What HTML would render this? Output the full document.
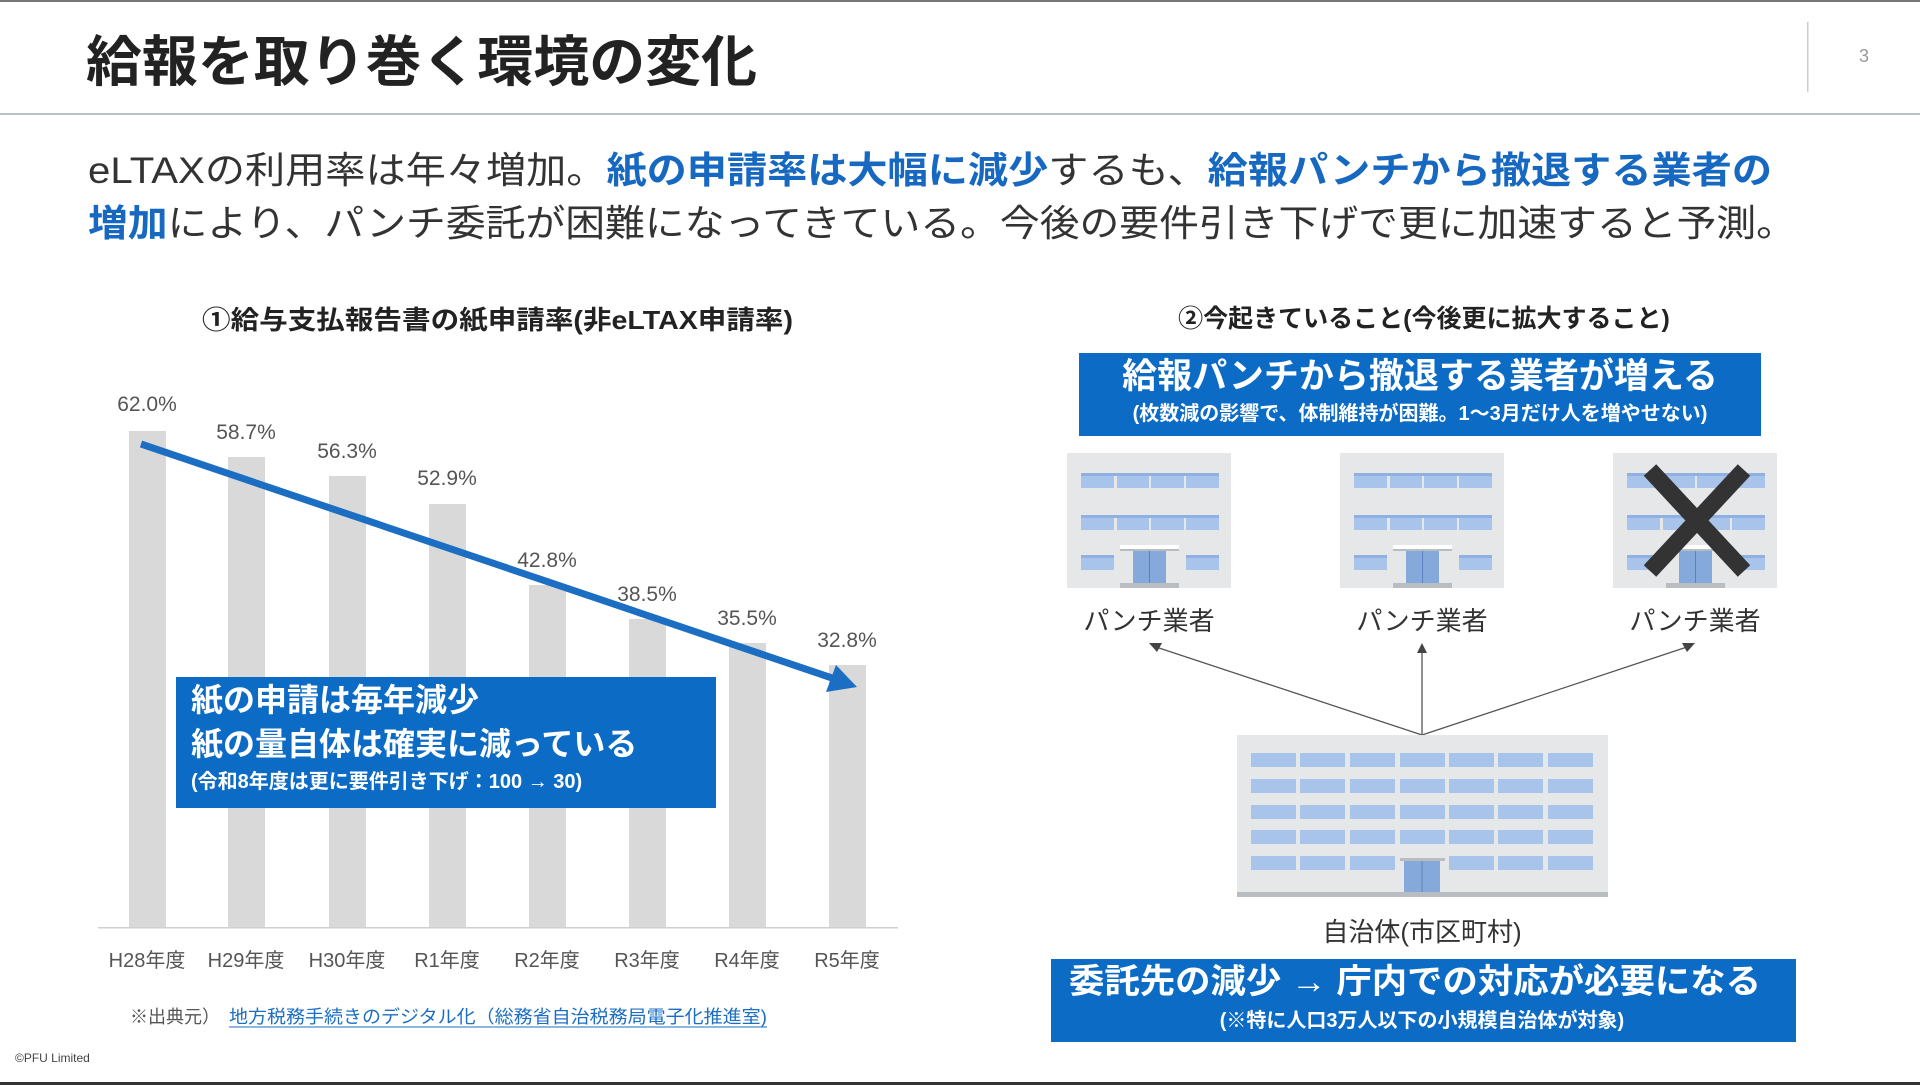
<!DOCTYPE html>
<html><head><meta charset="utf-8"><style>
html,body{margin:0;padding:0;background:#fff;}
svg{display:block;}
text{font-family:"Liberation Sans","Noto Sans CJK JP",sans-serif;}
</style></head><body>
<svg width="1920" height="1085" viewBox="0 0 1920 1085" xmlns="http://www.w3.org/2000/svg">
<defs>
<g id="sb">
<rect x="0" y="0" width="164" height="135" fill="#e6e7e9"/>
<g fill="#a9c4ea">
<rect x="14" y="20" width="33" height="15"/><rect x="50" y="20" width="32" height="15"/><rect x="84" y="20" width="33" height="15"/><rect x="119" y="20" width="33" height="15"/>
<rect x="14" y="62" width="33" height="15"/><rect x="50" y="62" width="32" height="15"/><rect x="84" y="62" width="33" height="15"/><rect x="119" y="62" width="33" height="15"/>
<rect x="14" y="102" width="33" height="15"/><rect x="119" y="102" width="33" height="15"/>
</g>
<g fill="#8fb0e0">
<rect x="14" y="20" width="138" height="3"/><rect x="14" y="62" width="138" height="3"/><rect x="14" y="102" width="33" height="3"/><rect x="119" y="102" width="33" height="3"/>
</g>
<rect x="66" y="98" width="33" height="32" fill="#86a9dc"/>
<line x1="82.5" y1="98" x2="82.5" y2="130" stroke="#5c82bd" stroke-width="1"/>
<rect x="53" y="92" width="59" height="4" fill="#fff"/><rect x="53" y="96" width="59" height="2" fill="#b9bcc0"/>
<rect x="53" y="130" width="59" height="5" fill="#b9bcc0"/>
</g>
</defs>

<rect x="0" y="0" width="1920" height="2" fill="#777"/>
<text x="86" y="81" font-size="55" font-weight="bold" fill="#222" textLength="671" lengthAdjust="spacingAndGlyphs">給報を取り巻く環境の変化</text>
<rect x="1807" y="22" width="1.5" height="70" fill="#ccc"/>
<text x="1864" y="62" font-size="18" fill="#999" text-anchor="middle">3</text>
<rect x="0" y="113" width="1920" height="2" fill="#b8c0c6"/>

<text x="88" y="183" font-size="37" fill="#333" textLength="1684" lengthAdjust="spacingAndGlyphs">eLTAXの利用率は年々増加。<tspan fill="#1668c1" font-weight="bold">紙の申請率は大幅に減少</tspan>するも、<tspan fill="#1668c1" font-weight="bold">給報パンチから撤退する業者の</tspan></text>
<text x="88" y="236" font-size="37" fill="#333" textLength="1708" lengthAdjust="spacingAndGlyphs"><tspan fill="#1668c1" font-weight="bold">増加</tspan>により、パンチ委託が困難になってきている。今後の要件引き下げで更に加速すると予測。</text>

<text x="202" y="329" font-size="26" font-weight="bold" fill="#222" textLength="591" lengthAdjust="spacingAndGlyphs">①給与支払報告書の紙申請率(非eLTAX申請率)</text>

<g fill="#d9d9d9">
<rect x="129" y="431" width="37" height="497"/>
<rect x="228" y="457" width="37" height="471"/>
<rect x="329" y="476" width="37" height="452"/>
<rect x="429" y="504" width="37" height="424"/>
<rect x="529" y="585" width="37" height="343"/>
<rect x="629" y="619" width="37" height="309"/>
<rect x="729" y="643" width="37" height="285"/>
<rect x="829" y="665" width="37" height="263"/>
</g>
<rect x="98" y="927" width="800" height="1.5" fill="#d0d0d0"/>
<g font-size="21" fill="#555" text-anchor="middle">
<text x="147" y="411">62.0%</text><text x="246" y="439">58.7%</text><text x="347" y="458">56.3%</text><text x="447" y="485">52.9%</text>
<text x="547" y="567">42.8%</text><text x="647" y="601">38.5%</text><text x="747" y="625">35.5%</text><text x="847" y="647">32.8%</text>
</g>
<g font-size="20" fill="#555" text-anchor="middle">
<text x="147" y="967">H28年度</text><text x="246" y="967">H29年度</text><text x="347" y="967">H30年度</text><text x="447" y="967">R1年度</text>
<text x="547" y="967">R2年度</text><text x="647" y="967">R3年度</text><text x="747" y="967">R4年度</text><text x="847" y="967">R5年度</text>
</g>
<line x1="141" y1="444" x2="835" y2="679" stroke="#1b6ec2" stroke-width="7"/>
<polygon points="857,687 826,692 836,665" fill="#1b6ec2"/>

<rect x="176" y="677" width="540" height="131" fill="#0c6bc5"/>
<text x="191" y="711" font-size="32" font-weight="bold" fill="#fff">紙の申請は毎年減少</text>
<text x="191" y="755" font-size="32" font-weight="bold" fill="#fff">紙の量自体は確実に減っている</text>
<text x="191" y="788" font-size="20" font-weight="bold" fill="#fff">(令和8年度は更に要件引き下げ：100 → 30)</text>

<text x="130" y="1023" font-size="18" fill="#555">※出典元）</text>
<text x="229" y="1023" font-size="18" fill="#1b6ec2" textLength="538" lengthAdjust="spacingAndGlyphs">地方税務手続きのデジタル化（総務省自治税務局電子化推進室)</text>
<line x1="229" y1="1027" x2="767" y2="1027" stroke="#1b6ec2" stroke-width="1"/>
<text x="15" y="1062" font-size="12" fill="#444">©PFU Limited</text>
<rect x="0" y="1082" width="1920" height="3" fill="#333"/>

<text x="1424" y="327" font-size="25" font-weight="bold" fill="#222" text-anchor="middle">②今起きていること(今後更に拡大すること)</text>
<rect x="1079" y="353" width="682" height="83" fill="#0c6bc5"/>
<text x="1420" y="388" font-size="35" font-weight="bold" fill="#fff" text-anchor="middle">給報パンチから撤退する業者が増える</text>
<text x="1420" y="420" font-size="20" font-weight="bold" fill="#fff" text-anchor="middle">(枚数減の影響で、体制維持が困難。1～3月だけ人を増やせない)</text>

<use href="#sb" x="1067" y="453"/>
<use href="#sb" x="1340" y="453"/>
<use href="#sb" x="1613" y="453"/>
<g stroke="#333" stroke-width="17" stroke-linecap="butt">
<line x1="1650" y1="470" x2="1744" y2="571"/><line x1="1744" y1="470" x2="1650" y2="571"/>
</g>
<g font-size="26" fill="#333" text-anchor="middle">
<text x="1149" y="630">パンチ業者</text><text x="1422" y="630">パンチ業者</text><text x="1695" y="630">パンチ業者</text>
</g>
<g stroke="#555" stroke-width="1.3">
<line x1="1422" y1="735" x2="1153" y2="646"/><line x1="1422" y1="735" x2="1422" y2="652"/><line x1="1422" y1="735" x2="1690" y2="646"/>
</g>
<g fill="#444">
<polygon points="1149,643 1162,643 1157,652"/>
<polygon points="1422,643 1417,653 1427,653"/>
<polygon points="1695,643 1682,643 1687,652"/>
</g>

<rect x="1237" y="735" width="371" height="162" fill="#e6e7e9"/>
<g fill="#a9c4ea">
<rect x="1251" y="753" width="45" height="14"/><rect x="1300" y="753" width="45" height="14"/><rect x="1350" y="753" width="45" height="14"/><rect x="1400" y="753" width="45" height="14"/><rect x="1449" y="753" width="45" height="14"/><rect x="1498" y="753" width="45" height="14"/><rect x="1548" y="753" width="45" height="14"/>
<rect x="1251" y="779" width="45" height="14"/><rect x="1300" y="779" width="45" height="14"/><rect x="1350" y="779" width="45" height="14"/><rect x="1400" y="779" width="45" height="14"/><rect x="1449" y="779" width="45" height="14"/><rect x="1498" y="779" width="45" height="14"/><rect x="1548" y="779" width="45" height="14"/>
<rect x="1251" y="805" width="45" height="14"/><rect x="1300" y="805" width="45" height="14"/><rect x="1350" y="805" width="45" height="14"/><rect x="1400" y="805" width="45" height="14"/><rect x="1449" y="805" width="45" height="14"/><rect x="1498" y="805" width="45" height="14"/><rect x="1548" y="805" width="45" height="14"/>
<rect x="1251" y="830" width="45" height="14"/><rect x="1300" y="830" width="45" height="14"/><rect x="1350" y="830" width="45" height="14"/><rect x="1400" y="830" width="45" height="14"/><rect x="1449" y="830" width="45" height="14"/><rect x="1498" y="830" width="45" height="14"/><rect x="1548" y="830" width="45" height="14"/>
<rect x="1251" y="856" width="45" height="14"/><rect x="1300" y="856" width="45" height="14"/><rect x="1350" y="856" width="45" height="14"/><rect x="1449" y="856" width="45" height="14"/><rect x="1498" y="856" width="45" height="14"/><rect x="1548" y="856" width="45" height="14"/>
</g>
<rect x="1400" y="858" width="45" height="3" fill="#b9bcc0"/>
<rect x="1404" y="861" width="36" height="32" fill="#86a9dc"/>
<line x1="1422" y1="861" x2="1422" y2="893" stroke="#5c82bd"/>
<rect x="1237" y="892" width="371" height="5" fill="#b9bcc0"/>
<text x="1422" y="941" font-size="26" fill="#333" text-anchor="middle">自治体(市区町村)</text>

<rect x="1051" y="959" width="745" height="83" fill="#0c6bc5"/>
<text x="1069" y="993" font-size="34" font-weight="bold" fill="#fff" textLength="692" lengthAdjust="spacingAndGlyphs">委託先の減少 → 庁内での対応が必要になる</text>
<text x="1422" y="1027" font-size="20" font-weight="bold" fill="#fff" text-anchor="middle">(※特に人口3万人以下の小規模自治体が対象)</text>
</svg>
</body></html>
